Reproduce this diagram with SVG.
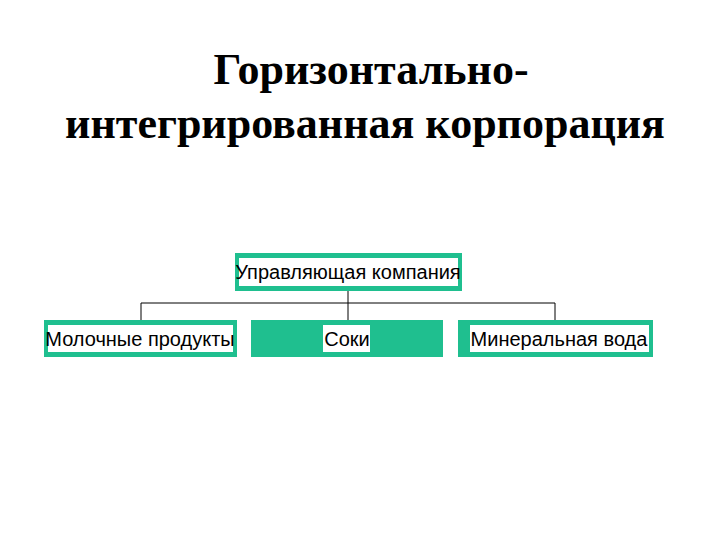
<svg xmlns="http://www.w3.org/2000/svg" width="720" height="540" viewBox="0 0 720 540">
<style>
.box{fill:#1fbf8f}
.bg{fill:#fff}
.t{font-family:"Liberation Sans",Arial,sans-serif;font-size:20px;fill:#000;text-anchor:middle}
.h{font-family:"Liberation Serif","Times New Roman",serif;font-size:44px;font-weight:bold;fill:#000;text-anchor:middle}
.c{stroke:#000;stroke-width:1;fill:none}
</style>
<rect width="720" height="540" fill="#fff"/>
<text class="h" x="371" y="84">Горизонтально-</text>
<text class="h" x="365" y="138">интегрированная корпорация</text>
<g id="connectors">
<path class="c" d="M348 290V320M141 303H555M141 303V320M555 303V320"/>
</g>
<g id="n-top"><rect class="box" x="235" y="253" width="227" height="38"/><rect class="bg" x="239" y="258" width="219" height="28"/><text class="t" x="348" y="279">Управляющая компания</text></g>
<g id="n-milk"><rect class="box" x="44" y="320" width="193" height="37"/><rect class="bg" x="48" y="325" width="185" height="27"/><text class="t" x="140" y="346">Молочные продукты</text></g>
<g id="n-juice"><rect class="box" x="251" y="320" width="192" height="37"/><rect class="bg" x="323" y="325" width="47" height="27"/><text class="t" x="347" y="346">Соки</text></g>
<g id="n-water"><rect class="box" x="458" y="320" width="195" height="37"/><rect class="bg" x="470" y="325" width="179" height="27"/><text class="t" x="559" y="346">Минеральная вода</text></g>
</svg>
